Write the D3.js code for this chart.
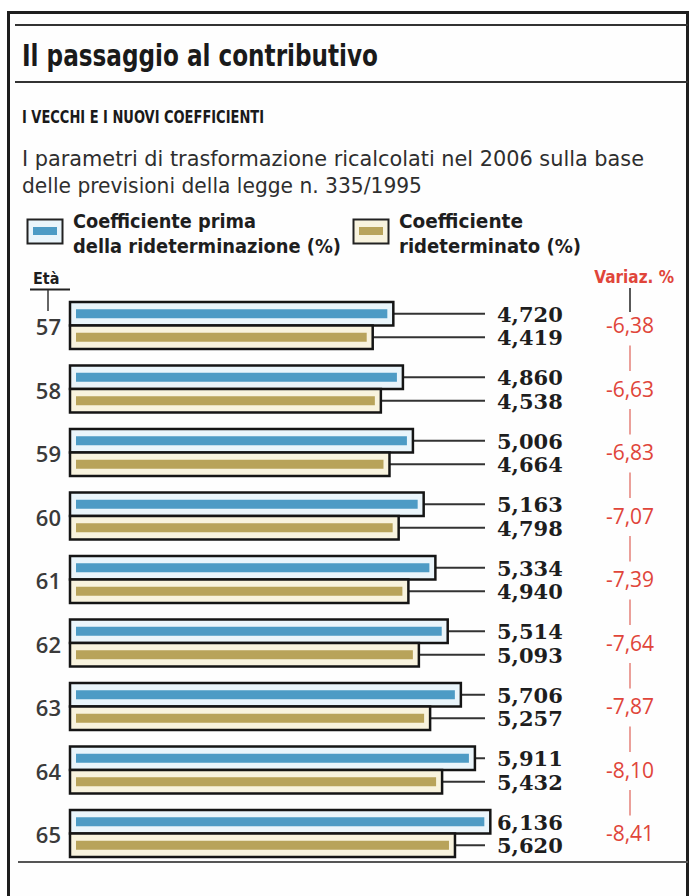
<!DOCTYPE html>
<html>
<head>
<meta charset="utf-8">
<script src="https://cdn.jsdelivr.net/npm/d3@7"></script>
<style>
  body { margin: 0; background: #fff; }
  svg { font-family: "DejaVu Sans Condensed", "DejaVu Sans", sans-serif; }
</style>
</head>
<body>
<div id="chart"></div>
<script>
// chart data
const ages = [57, 58, 59, 60, 61, 62, 63, 64, 65];
const before = [4.720, 4.860, 5.006, 5.163, 5.334, 5.514, 5.706, 5.911, 6.136];
const after = [4.419, 4.538, 4.664, 4.798, 4.940, 5.093, 5.257, 5.432, 5.620];
const variaz = [-6.38, -6.63, -6.83, -7.07, -7.39, -7.64, -7.87, -8.10, -8.41];
const series = ["before", "after"];

const width = 690, height = 896;

const it = d3.formatLocale({decimal: ",", thousands: ".", grouping: [3], currency: ["", "€"], minus: "-"});
const fmt3 = it.format(".3f");
const fmt2 = it.format(".2f");

const colors = {
  before: {stripe: "#4d9bc5", fill: "#eaf5fb"},
  after: {stripe: "#b8a35a", fill: "#f8f3de"}
};

const svg = d3.select("#chart").append("svg")
    .attr("width", width)
    .attr("height", height);

// frame
svg.append("rect")
    .attr("x", 8.5).attr("y", 12.5)
    .attr("width", 679).attr("height", 1000)
    .attr("fill", "#fefefe")
    .attr("stroke", "#1e1e1e")
    .attr("stroke-width", 3);

// header rules
svg.append("line").attr("x1", 15).attr("x2", 688).attr("y1", 25).attr("y2", 25)
    .attr("stroke", "#333").attr("stroke-width", 2);
svg.append("line").attr("x1", 15).attr("x2", 688).attr("y1", 82).attr("y2", 82)
    .attr("stroke", "#333").attr("stroke-width", 2);

svg.append("text")
    .attr("x", 22).attr("y", 66)
    .attr("font-size", 31).attr("font-weight", "bold")
    .attr("fill", "#1a1a1a")
    .attr("textLength", 356).attr("lengthAdjust", "spacingAndGlyphs")
    .text("Il passaggio al contributivo");

svg.append("text")
    .attr("x", 22).attr("y", 123)
    .attr("font-size", 18).attr("font-weight", "bold")
    .attr("fill", "#1a1a1a")
    .attr("textLength", 242).attr("lengthAdjust", "spacingAndGlyphs")
    .text("I VECCHI E I NUOVI COEFFICIENTI");

svg.append("text")
    .attr("x", 22).attr("y", 166)
    .attr("font-size", 21)
    .attr("fill", "#2e2e2e")
    .attr("textLength", 622).attr("lengthAdjust", "spacingAndGlyphs")
    .text("I parametri di trasformazione ricalcolati nel 2006 sulla base");

svg.append("text")
    .attr("x", 22).attr("y", 193)
    .attr("font-size", 21)
    .attr("fill", "#2e2e2e")
    .attr("textLength", 400).attr("lengthAdjust", "spacingAndGlyphs")
    .text("delle previsioni della legge n. 335/1995");

// legend
const legend = [
  {key: "before", x: 27, lines: ["Coefficiente prima", "della rideterminazione (%)"], widths: [183, 268]},
  {key: "after", x: 353, lines: ["Coefficiente", "rideterminato (%)"], widths: [124, 182]}
];
const lg = svg.selectAll("g.legend").data(legend).join("g")
    .attr("class", "legend")
    .attr("transform", d => `translate(${d.x},219)`);
lg.append("rect")
    .attr("x", 0.5).attr("y", 0.5).attr("width", 35).attr("height", 24)
    .attr("fill", d => colors[d.key].fill)
    .attr("stroke", "#222").attr("stroke-width", 2);
lg.append("rect")
    .attr("x", 6).attr("y", 8).attr("width", 24).attr("height", 8)
    .attr("fill", d => colors[d.key].stripe);
lg.each(function(d) {
  d3.select(this).selectAll("text").data(d.lines).join("text")
      .attr("x", 46)
      .attr("y", (t, i) => 9 + i * 25)
      .attr("font-size", 19).attr("font-weight", "bold")
      .attr("fill", "#1e1e1e")
      .attr("textLength", (t, i) => d.widths[i]).attr("lengthAdjust", "spacingAndGlyphs")
      .text(t => t);
});

// scales
const x = d3.scaleLinear().domain([0, 7]).range([70, 70 + 7 * 68.5]);
const y = d3.scaleBand().domain(ages).range([302, 857]).paddingInner(0.26).paddingOuter(0);
const ySub = d3.scaleBand().domain(series).range([0, y.bandwidth()]);

const labelX = 497, leaderEnd = 485;

// Età header
svg.append("text")
    .attr("x", 33).attr("y", 284)
    .attr("font-size", 16).attr("font-weight", "bold")
    .attr("fill", "#1e1e1e")
    .text("Età");
svg.append("line").attr("x1", 30).attr("x2", 70).attr("y1", 289.5).attr("y2", 289.5)
    .attr("stroke", "#222").attr("stroke-width", 2);
svg.append("line").attr("x1", 48).attr("x2", 48).attr("y1", 290).attr("y2", 311)
    .attr("stroke", "#333").attr("stroke-width", 1.5);

// Variaz header
svg.append("text")
    .attr("x", 674).attr("y", 283)
    .attr("text-anchor", "end")
    .attr("font-size", 17).attr("font-weight", "bold")
    .attr("fill", "#e0453a")
    .text("Variaz. %");

const rows = ages.map((age, i) => ({age, before: before[i], after: after[i], variaz: variaz[i], i}));

const g = svg.selectAll("g.row").data(rows).join("g")
    .attr("class", "row")
    .attr("transform", d => `translate(0,${y(d.age)})`);

// age labels
g.append("text")
    .attr("x", 61)
    .attr("y", y.bandwidth() / 2 + 10)
    .attr("text-anchor", "end")
    .style("font-family", "'Open Sans', sans-serif")
    .attr("font-size", 22).attr("font-weight", 600)
    .attr("fill", "#3a3a3a")
    .text(d => d.age);

const bars = g.selectAll("g.bar")
    .data(d => series.map(k => ({key: k, value: d[k]})))
    .join("g")
    .attr("class", "bar")
    .attr("transform", d => `translate(0,${ySub(d.key)})`);

const bh = ySub.bandwidth();

// leader lines
bars.append("line")
    .attr("x1", d => x(d.value)).attr("x2", leaderEnd)
    .attr("y1", bh / 2).attr("y2", bh / 2)
    .attr("stroke", "#333").attr("stroke-width", 2);

bars.append("rect")
    .attr("x", x(0))
    .attr("y", 0)
    .attr("width", d => x(d.value) - x(0))
    .attr("height", bh)
    .attr("fill", d => colors[d.key].fill)
    .attr("stroke", "#151515").attr("stroke-width", 2.5);

bars.append("rect")
    .attr("x", x(0) + 6)
    .attr("y", bh / 2 - 4.5)
    .attr("width", d => x(d.value) - x(0) - 12)
    .attr("height", 9)
    .attr("fill", d => colors[d.key].stripe);

bars.append("text")
    .attr("x", labelX)
    .attr("y", bh / 2 + 8)
    .style("font-family", "'DejaVu Serif', serif")
    .attr("font-size", 21).attr("font-weight", "bold")
    .attr("fill", "#1e1e1e")
    .text(d => fmt3(d.value));

// variation values
g.append("text")
    .attr("x", 630)
    .attr("y", y.bandwidth() / 2 + 8)
    .attr("text-anchor", "middle")
    .style("font-family", "'Open Sans', sans-serif")
    .attr("font-size", 21)
    .attr("fill", "#e0453a")
    .text(d => fmt2(d.variaz));

// connector ticks between variation values
svg.append("line").attr("x1", 630).attr("x2", 630).attr("y1", 288).attr("y2", 312)
    .attr("stroke", "#222").attr("stroke-width", 1.5);
svg.selectAll("line.vtick").data(ages.slice(0, -1)).join("line")
    .attr("class", "vtick")
    .attr("x1", 630).attr("x2", 630)
    .attr("y1", d => y(d) + y.bandwidth() / 2 + 20)
    .attr("y2", (d, i) => y(ages[i + 1]) + y.bandwidth() / 2 - 18)
    .attr("stroke", "#e58078").attr("stroke-width", 1.5);

// bottom rule
svg.append("line").attr("x1", 18).attr("x2", 688).attr("y1", 862).attr("y2", 862)
    .attr("stroke", "#555").attr("stroke-width", 2);
</script>
</body>
</html>
